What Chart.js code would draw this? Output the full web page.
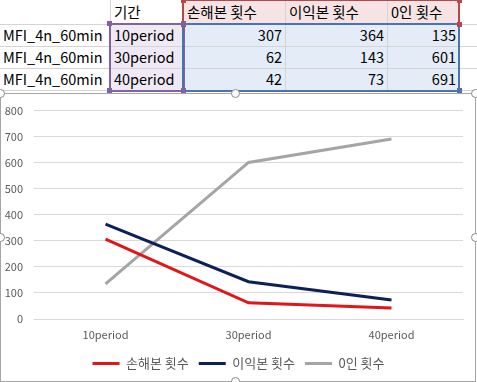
<!DOCTYPE html>
<html>
<head>
<meta charset="utf-8">
<script src="https://cdn.jsdelivr.net/npm/chart.js@4.4.1/dist/chart.umd.min.js"></script>
<style>
  html, body { margin:0; padding:0; background:#fff; width:477px; height:382px; overflow:hidden; }
  body { position:relative; font-family:"Noto Sans CJK KR","Noto Sans",sans-serif; }
  .abs { position:absolute; box-sizing:border-box; }
  .cell { position:absolute; font-size:14.5px; color:#000; line-height:22px; white-space:nowrap; }
  .r { text-align:right; }
  .hl { position:absolute; height:1px; background:#d4d4d4; }
  .vl { position:absolute; width:1px; background:#d4d4d4; }
  .sq { position:absolute; width:5px; height:5px; }
  .handle { position:absolute; width:9px; height:9px; border-radius:50%; background:#fff; border:1.5px solid #8a8a8a; box-sizing:border-box; }
  #wrap { position:absolute; left:0; top:93px; width:477px; height:289px; }
</style>
</head>
<body>
<div id="sheet"></div>
<div id="wrap"><canvas id="c" width="477" height="289"></canvas></div>
<div class="abs" style="left:0;top:93px;width:476px;height:289px;border:1px solid #a6a6a6;pointer-events:none;"></div>
<div class="handle" style="left:-4px;top:89px"></div>
<div class="handle" style="left:231px;top:89px"></div>
<div class="handle" style="left:471px;top:89px"></div>
<div class="handle" style="left:-4px;top:233px"></div>
<div class="handle" style="left:471px;top:233px"></div>
<div class="handle" style="left:231px;top:377px"></div>
<script>
const seriesNames = ["손해본 횟수", "이익본 횟수", "0인 횟수"];
const seriesColors = ["#e0161b", "#0b2158", "#a5a5a5"];
const categories = ["10period", "30period", "40period"];
const rowLabels = ["MFI_4n_60min", "MFI_4n_60min", "MFI_4n_60min"];
const periodHeader = "기간";
const lossCounts = [307, 62, 42];
const profitCounts = [364, 143, 73];
const zeroCounts = [135, 601, 691];
const yTicks = [0, 100, 200, 300, 400, 500, 600, 700, 800];

// ---- spreadsheet part ----
const sheet = document.getElementById('sheet');
function add(html){ sheet.insertAdjacentHTML('beforeend', html); }
const colX = [0, 110, 183, 285, 387, 459, 477];
const rowY = [0, 24, 46, 68, 90];
add('<div class="abs" style="left:184px;top:0;width:275px;height:24px;background:#f6e3e3"></div>');
add('<div class="abs" style="left:111px;top:24px;width:72px;height:66px;background:#efe9f5"></div>');
add('<div class="abs" style="left:184px;top:24px;width:275px;height:66px;background:#e4ecf7"></div>');
[24,46,68,90].forEach(y=>add(`<div class="hl" style="left:0;top:${y}px;width:477px"></div>`));
[110,183,285,387,459].forEach(x=>add(`<div class="vl" style="left:${x}px;top:0;height:92px"></div>`));
add('<div class="abs" style="left:182px;top:-1px;width:278px;height:26px;border:2px solid #b8464b"></div>');
add('<div class="abs" style="left:109px;top:23px;width:76px;height:69px;border:2px solid #8064a2"></div>');
add('<div class="abs" style="left:182px;top:23px;width:278px;height:69px;border:2px solid #4a73b0"></div>');
[[181,-2,'#b8464b'],[457,-2,'#b8464b'],[457,22,'#b8464b'],[181,22,'#b8464b'],
 [107,21,'#8064a2'],[181,21,'#8064a2'],[107,88,'#8064a2'],[181,88,'#8064a2'],
 [457,88,'#4a73b0']].forEach(([x,y,c])=>add(`<div class="sq" style="left:${x}px;top:${y}px;background:${c}"></div>`));
add(`<div class="cell" style="left:114px;top:1px">${periodHeader}</div>`);
seriesNames.forEach((s,i)=>add(`<div class="cell" style="left:${colX[i+2]+4}px;top:1px">${s}</div>`));
const seriesData = [lossCounts, profitCounts, zeroCounts];
for (let r=0;r<3;r++){
  add(`<div class="cell" style="left:3px;top:${rowY[r+1]}px">${rowLabels[r]}</div>`);
  add(`<div class="cell" style="left:114px;top:${rowY[r+1]}px">${categories[r]}</div>`);
  for (let s=0;s<3;s++){
    const right = 477 - colX[s+3] + 3;
    add(`<div class="cell r" style="right:${right}px;top:${rowY[r+1]}px">${seriesData[s][r]}</div>`);
  }
}

// ---- chart ----
const FONT = '"Noto Sans CJK KR","Noto Sans",sans-serif';
const legendShift = {
  id: 'legendShift',
  afterLayout(chart) {
    if (chart.legend) { chart.legend.left += 7; chart.legend.right += 7; }
  }
};
new Chart(document.getElementById('c'), {
  type: 'line',
  data: {
    labels: categories,
    datasets: seriesNames.map((name, i) => ({
      label: name,
      data: seriesData[i],
      borderColor: seriesColors[i],
      backgroundColor: seriesColors[i],
      borderWidth: 3,
      pointStyle: 'line'
    }))
  },
  plugins: [legendShift],
  options: {
    responsive: false,
    animation: false,
    devicePixelRatio: 1,
    elements: {
      line: { tension: 0, borderCapStyle: 'butt' },
      point: { radius: 0, hoverRadius: 0 }
    },
    layout: { padding: { left: 0, right: 14, top: 11, bottom: 2 } },
    plugins: {
      tooltip: { enabled: false },
      legend: {
        position: 'bottom',
        labels: {
          usePointStyle: true,
          pointStyle: 'line',
          pointStyleWidth: 27,
          padding: 10,
          color: '#595959',
          font: { family: FONT, size: 13 },
          generateLabels: (chart) => chart.data.datasets.map((ds, i) => ({
            text: ds.label,
            datasetIndex: i,
            fillStyle: seriesColors[i],
            strokeStyle: seriesColors[i],
            lineWidth: 3,
            lineCap: 'butt',
            pointStyle: 'line',
            fontColor: '#595959',
            hidden: false
          }))
        }
      }
    },
    scales: {
      x: {
        offset: true,
        grid: { display: false, drawTicks: false },
        border: { display: true, color: '#d9d9d9', width: 1 },
        ticks: { color: '#595959', font: { family: FONT, size: 11 }, padding: 9, maxRotation: 0 },
        afterFit: (s) => { s.height = 28; }
      },
      y: {
        min: 0, max: 800,
        afterBuildTicks: (s) => { s.ticks = yTicks.map(v => ({ value: v })); },
        grid: { color: '#d9d9d9', lineWidth: 1, drawTicks: false },
        border: { display: false },
        ticks: { color: '#595959', font: { family: FONT, size: 11 }, padding: 11 },
        afterFit: (s) => { s.width = 34; }
      }
    }
  }
});
</script>
</body>
</html>
